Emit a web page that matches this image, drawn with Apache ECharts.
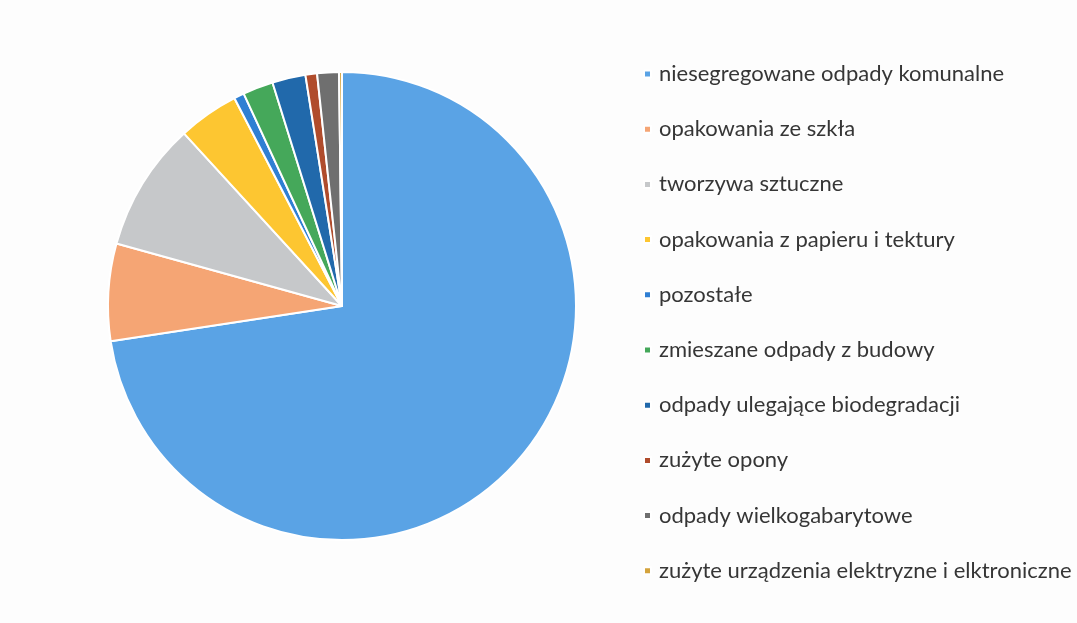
<!DOCTYPE html>
<html>
<head>
<meta charset="utf-8">
<script src="https://cdn.jsdelivr.net/npm/echarts@6/dist/echarts.min.js"></script>
<style>
    html, body { margin: 0; padding: 0; background: #fdfdfd; }
    #container { width: 1077px; height: 623px; }
</style>
</head>
<body>
<div id="container"></div>
<script>
// kategorie odpadów
let categories = [
    'niesegregowane odpady komunalne',
    'opakowania ze szkła',
    'tworzywa sztuczne',
    'opakowania z papieru i tektury',
    'pozostałe',
    'zmieszane odpady z budowy',
    'odpady ulegające biodegradacji',
    'zużyte opony',
    'odpady wielkogabarytowe',
    'zużyte urządzenia elektryzne i elktroniczne'
];
// udział w %
let shares = [72.6, 6.7, 8.9, 4.2, 0.7, 2.1, 2.3, 0.8, 1.5, 0.2];
let colors = ['#5aa3e5', '#f5a574', '#c6c8ca', '#fdc631', '#2f7fd3', '#45a85a', '#2169ab', '#b04c2c', '#6f6f6f', '#d4a33c'];

let dom = document.getElementById("container");
let myChart = echarts.init(dom);

let pieData = categories.map(function (name, i) {
    return {name: name, value: shares[i], itemStyle: {color: colors[i]}};
});

let option = {
    backgroundColor: '#fdfdfd',
    animation: false,
    legend: {
        orient: 'vertical',
        left: 638,
        top: 58,
        itemWidth: 7,
        itemHeight: 7,
        itemGap: 33.2,
        icon: 'rect',
        data: categories,
        textStyle: {
            color: '#363636',
            fontFamily: 'Lato',
            fontSize: 22,
            lineHeight: 22,
            padding: [0, 0, 0, 3]
        }
    },
    series: [
        {
            name: 'odpady',
            type: 'pie',
            center: [342, 306],
            radius: 234,
            startAngle: 90,
            clockwise: true,
            label: {show: false},
            labelLine: {show: false},
            itemStyle: {
                borderColor: '#ffffff',
                borderWidth: 2
            },
            data: pieData
        }
    ]
};
myChart.setOption(option, true);
</script>
</body>
</html>
